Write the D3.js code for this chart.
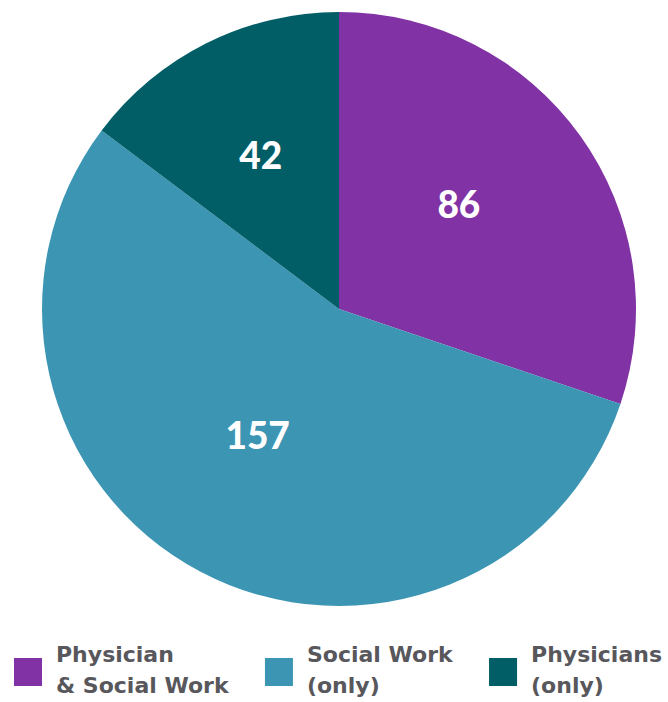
<!DOCTYPE html>
<html>
<head>
<meta charset="utf-8">
<script src="https://cdn.jsdelivr.net/npm/d3@7"></script>
<style>
  body { margin: 0; background: #fff; }
  svg { display: block; }
</style>
</head>
<body>
<svg id="chart"></svg>
<script>
//Data
var categories = ["Physician & Social Work", "Social Work (only)", "Physicians (only)"];
var legendLines = [["Physician", "& Social Work"], ["Social Work", "(only)"], ["Physicians", "(only)"]];
var values = [86, 157, 42];
var colors = ["#8132a4", "#3b95b3", "#015e66"];

//Dimensions
var dimensions = {
    width: 668,
    height: 702,
    cx: 339,
    cy: 309,
    radius: 297
};

var svg = d3.select("#chart")
            .attr("width", dimensions.width)
            .attr("height", dimensions.height);

//Pie layout, clockwise from 12 o'clock, keep data order
var pie = d3.pie().sort(null).value(function(d){ return d; });
var arcs = pie(values);

var arcGen = d3.arc().innerRadius(0).outerRadius(dimensions.radius);
var labelArc = d3.arc().innerRadius(dimensions.radius * 0.53).outerRadius(dimensions.radius * 0.53);

var g = svg.append("g")
           .attr("transform", "translate(" + dimensions.cx + "," + dimensions.cy + ")");

g.selectAll("path")
 .data(arcs)
 .join("path")
 .attr("d", arcGen)
 .attr("fill", function(d, i){ return colors[i]; });

//Value labels
g.selectAll("text.val")
 .data(arcs)
 .join("text")
 .attr("class", "val")
 .attr("transform", function(d){
     var c = labelArc.centroid(d);
     return "translate(" + (c[0] - 8) + "," + c[1] + ")";
 })
 .attr("text-anchor", "middle")
 .attr("dy", "0.02em")
 .style("font-family", "Lato, 'Open Sans', sans-serif")
 .style("font-weight", "900")
 .style("font-size", "37px")
 .style("fill", "#fff")
 .text(function(d){ return d.value; });

//Legend, spread from left edge to right edge by text width
var legend = svg.append("g")
                .selectAll("g")
                .data(categories)
                .join("g");

legend.append("rect")
      .attr("width", 28)
      .attr("height", 28)
      .attr("y", 658)
      .attr("fill", function(d, i){ return colors[i]; });

legend.each(function(d, i){
    var item = d3.select(this);
    legendLines[i].forEach(function(line, j){
        item.append("text")
            .attr("x", 42)
            .attr("y", 662 + j * 31)
            .style("font-family", "'DejaVu Sans', sans-serif")
            .style("font-weight", "700")
            .style("font-size", "22px")
            .style("fill", "#58575c")
            .text(line);
    });
});

var widths = legend.nodes().map(function(n){
    return d3.max(d3.select(n).selectAll("text").nodes(), function(t){ return t.getBBox().width; });
});
var gap = (662 - 14 - 3 * 42 - d3.sum(widths)) / 2;

var xPos = 14;
legend.each(function(d, i){
    d3.select(this).attr("transform", "translate(" + xPos + ",0)");
    xPos += 42 + widths[i] + gap;
});
</script>
</body>
</html>
